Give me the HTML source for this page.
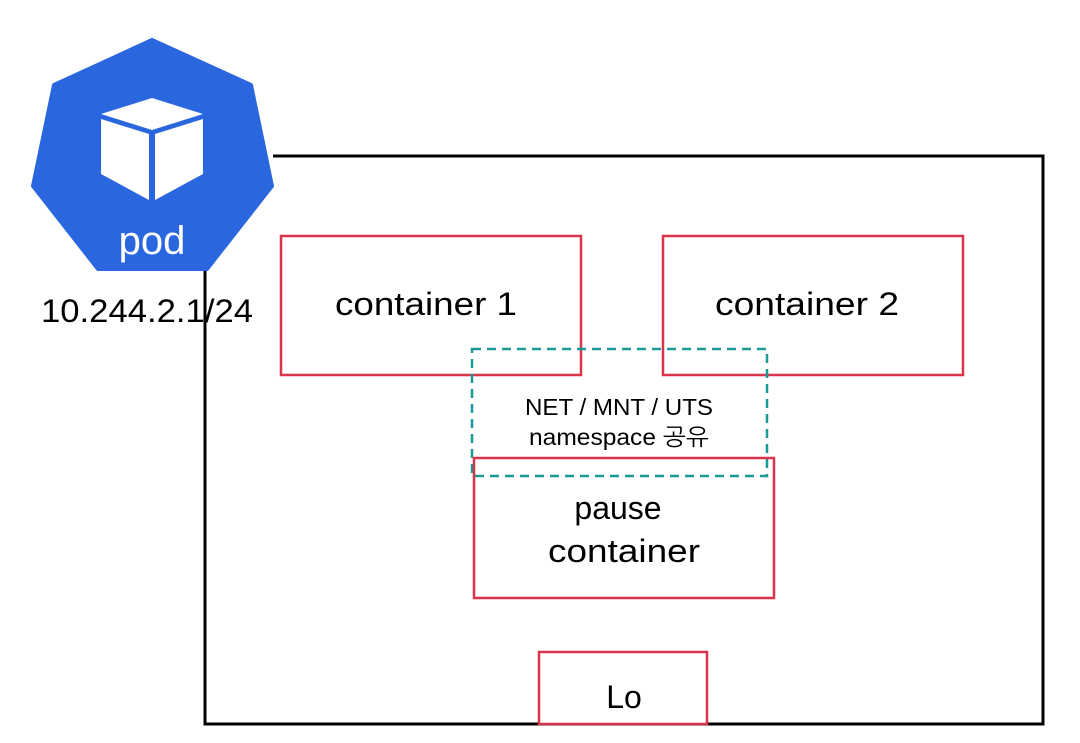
<!DOCTYPE html>
<html><head><meta charset="utf-8"><style>
html,body{margin:0;padding:0;background:#fff;}
svg{display:block;}
text{font-family:"Liberation Sans","NanumGothic",sans-serif;fill:#000;}
</style></head><body>
<svg width="1080" height="743" viewBox="0 0 1080 743" xmlns="http://www.w3.org/2000/svg">
<rect width="1080" height="743" fill="#fff"/>
<polyline points="273,156 1043,156 1043,724 205,724 205,270" fill="none" stroke="#000" stroke-width="3"/>
<polygon points="152,40 251,85 272,186 207,269 98,269 33,186 54,85" fill="#2a66dd" stroke="#2a66dd" stroke-width="4" stroke-linejoin="round"/>
<polygon points="152,98 203,114 152,130 101,114" fill="#fff"/>
<polygon points="101,119 149,134 149,200 101,174" fill="#fff"/>
<polygon points="155,134 203,119 203,174 155,200" fill="#fff"/>
<text x="152" y="254" font-size="40" text-anchor="middle" style="fill:#fff">pod</text>
<text x="147" y="322" font-size="32" text-anchor="middle" textLength="212" lengthAdjust="spacingAndGlyphs">10.244.2.1/24</text>
<rect x="281" y="236" width="300" height="139" fill="none" stroke="#d9344a" stroke-width="2.5"/>
<text x="426" y="315" font-size="32" text-anchor="middle" textLength="182" lengthAdjust="spacingAndGlyphs">container 1</text>
<rect x="663" y="236" width="300" height="139" fill="none" stroke="#d9344a" stroke-width="2.5"/>
<text x="807" y="315" font-size="32" text-anchor="middle" textLength="184" lengthAdjust="spacingAndGlyphs">container 2</text>
<rect x="472" y="349" width="295" height="127" fill="none" stroke="#1a9a96" stroke-width="2.5" stroke-dasharray="9,6"/>
<text x="619" y="415" font-size="23" text-anchor="middle" textLength="188" lengthAdjust="spacingAndGlyphs">NET / MNT / UTS</text>
<text x="619" y="445" font-size="23" text-anchor="middle" textLength="180" lengthAdjust="spacingAndGlyphs">namespace 공유</text>
<rect x="474" y="458" width="300" height="140" fill="none" stroke="#d9344a" stroke-width="2.5"/>
<text x="618" y="519" font-size="32" text-anchor="middle">pause</text>
<text x="624" y="562" font-size="32" text-anchor="middle" textLength="152" lengthAdjust="spacingAndGlyphs">container</text>
<rect x="539" y="652" width="168" height="72" fill="#fff" stroke="#d9344a" stroke-width="2.5"/>
<text x="624" y="708" font-size="32" text-anchor="middle">Lo</text>
</svg>
</body></html>
